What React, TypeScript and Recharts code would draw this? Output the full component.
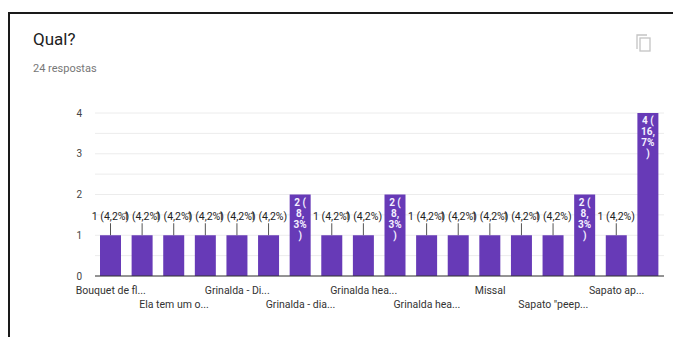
import React from 'react';
import { BarChart, Bar, XAxis, YAxis, CartesianGrid, LabelList } from 'recharts';

const categories = [
  'Bouquet de flores',
  'Bouquet de noiva',
  'Ela tem um objeto azul',
  'Grinalda - Coroa',
  'Grinalda - Diadema',
  'Grinalda - Flores',
  'Grinalda - diamantes',
  'Grinalda flores',
  'Grinalda headband',
  'Grinalda headpiece',
  'Grinalda headpiece pérolas',
  'Joias da avó',
  'Missal',
  'Sapato "de salto"',
  'Sapato "peep toe"',
  'Sapato antigo',
  'Sapato azul',
  'Véu',
];

const tickLabels = [
  'Bouquet de fl...',
  'Bouquet de n...',
  'Ela tem um o...',
  'Grinalda - C...',
  'Grinalda - Di...',
  'Grinalda - Fl...',
  'Grinalda - dia...',
  'Grinalda flo...',
  'Grinalda hea...',
  'Grinalda hea...',
  'Grinalda hea...',
  'Joias da avó',
  'Missal',
  'Sapato "de s...',
  'Sapato "peep...',
  'Sapato antigo',
  'Sapato ap...',
  'Véu',
];

const counts = [1, 1, 1, 1, 1, 1, 2, 1, 1, 2, 1, 1, 1, 1, 1, 2, 1, 4];

const totalResponses = 24;
const yTicks = [0, 0.5, 1, 1.5, 2, 2.5, 3, 3.5, 4];

const data = categories.map((name, i) => ({ name, value: counts[i] }));

const pct = (v: number) =>
  ((v / totalResponses) * 100).toFixed(1).replace('.', ',') + '%';

const FONT = 'Roboto, Arial, sans-serif';

const BarLabel = (props: any) => {
  const { x, y, width, value } = props;
  const cx = x + width / 2;
  if (value === 1) {
    return (
      <g>
        <line x1={cx} y1={y} x2={cx} y2={y - 12} stroke="#555" strokeWidth={1} />
        <text x={cx} y={y - 15} textAnchor="middle" fontSize={10.5} fill="#222" fontFamily={FONT}>
          {`${value} (${pct(value)})`}
        </text>
      </g>
    );
  }
  const p = pct(value);
  const parts = p.split(',');
  const lines = [`${value} (`, `${parts[0]},`, parts[1], ')'];
  return (
    <g>
      {lines.map((l, i) => (
        <text
          key={i}
          x={cx}
          y={y + 11 + i * 11}
          textAnchor="middle"
          fontSize={10}
          fontWeight="bold"
          fill="#f4f0ff"
          fontFamily={FONT}
        >
          {l}
        </text>
      ))}
    </g>
  );
};

const XTick = (props: any) => {
  const { x, index } = props;
  if (index % 2 !== 0) return null;
  const row = (index / 2) % 2;
  return (
    <text
      x={x}
      y={row === 0 ? 294 : 308}
      textAnchor="middle"
      fontSize={10.5}
      fill="#333"
      fontFamily={FONT}
    >
      {tickLabels[index]}
    </text>
  );
};

const CopyIcon = () => (
  <svg width={20} height={22} viewBox="0 0 20 22" style={{ position: 'absolute', left: 634, top: 32 }}>
    <path d="M3 17 V3 H13" fill="none" stroke="#c4c4c4" strokeWidth={1.3} />
    <rect x={6} y={6} width={10} height={13} fill="none" stroke="#c4c4c4" strokeWidth={1.3} />
  </svg>
);

export default function App() {
  return (
    <div
      style={{
        position: 'absolute',
        left: 0,
        top: 0,
        width: 673,
        height: 337,
        background: '#fff',
        overflow: 'hidden',
        fontFamily: FONT,
      }}
    >
      <div
        style={{
          position: 'absolute',
          left: 8,
          top: 12,
          width: 700,
          height: 400,
          border: '2px solid #1a1a1a',
          boxSizing: 'border-box',
        }}
      />
      <div style={{ position: 'absolute', left: 33, top: 29, fontSize: 17, color: '#212121' }}>Qual?</div>
      <div style={{ position: 'absolute', left: 33, top: 62, fontSize: 11, color: '#777' }}>24 respostas</div>
      <CopyIcon />
      <div style={{ position: 'absolute', left: 0, top: 0 }}>
        <BarChart
          width={673}
          height={337}
          data={data}
          margin={{ top: 113, right: 9, bottom: 21, left: 0 }}
          barSize={21}
        >
          <CartesianGrid vertical={false} stroke="#ececec" />
          <XAxis
            dataKey="name"
            interval={0}
            tickLine={false}
            axisLine={{ stroke: '#333' }}
            height={40}
            tick={<XTick />}
          />
          <YAxis
            domain={[0, 4]}
            ticks={yTicks}
            width={95}
            axisLine={false}
            tickLine={false}
            tickMargin={7}
            tick={{ fontSize: 10, fill: '#444', fontFamily: FONT }}
            tickFormatter={(v: number) => (Number.isInteger(v) ? String(v) : '')}
          />
          <Bar dataKey="value" fill="#673ab7" isAnimationActive={false}>
            <LabelList dataKey="value" content={<BarLabel />} />
          </Bar>
        </BarChart>
      </div>
    </div>
  );
}
